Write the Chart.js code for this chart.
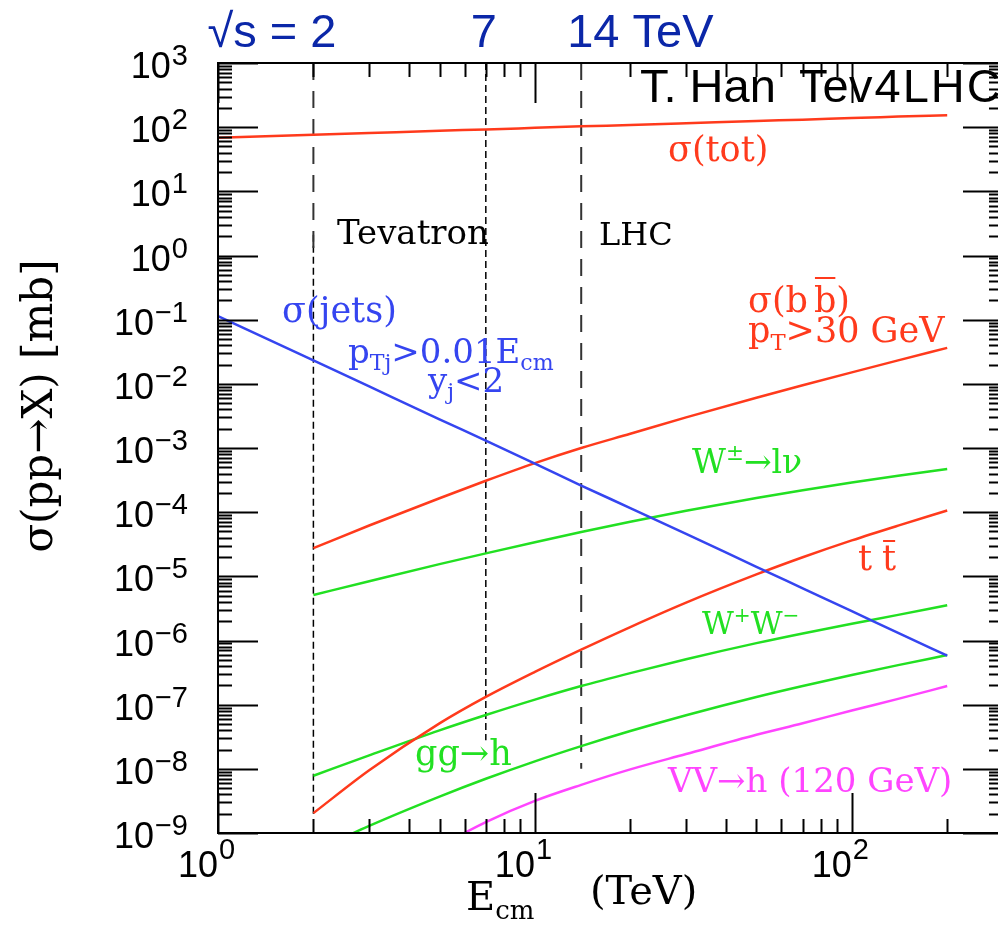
<!DOCTYPE html>
<html lang="en">
  <head>
    <meta charset="UTF-8" />
    <title>sigma(pp -> X) vs E_cm</title>
    <script src="https://cdn.jsdelivr.net/npm/chart.js"></script>
    <style>
      html,
      body {
        margin: 0;
        padding: 0;
        background: #fff;
        overflow: hidden;
      }
      #chart {
        display: block;
      }
    </style>
  </head>
  <body>
    <canvas id="chart" width="1010" height="926"></canvas>

    <script>
      // E_cm in TeV, cross sections in mb
      const energies = [1, 2, 3, 5, 7, 10, 14, 20, 30, 50, 70, 100, 140, 200];
      const sigmaTot = [68.5, 76, 81, 88, 92, 97.5, 103, 108, 115, 125, 131, 139, 146, 154];
      const sigmaJets = [0.114, 0.0232, 9.1e-3, 2.8e-3, 1.3e-3, 5.7e-4, 2.6e-4, 1.16e-4, 4.6e-5, 1.41e-5, 6.5e-6, 2.86e-6, 1.32e-6, 5.8e-7];
      const sigmaBB = [null, 2.75e-5, 6.19e-5, 1.65e-4, 3.09e-4, 5.82e-4, 1.0e-3, 1.67e-3, 3.0e-3, 6.07e-3, 9.5e-3, 0.0151, 0.0232, 0.0363];
      const sigmaW = [null, 5.13e-6, 8.4e-6, 1.55e-5, 2.28e-5, 3.4e-5, 4.9e-5, 7.1e-5, 1.05e-4, 1.66e-4, 2.2e-4, 2.89e-4, 3.68e-4, 4.69e-4];
      const sigmaTT = [null, 2.04e-9, 9.5e-9, 5.1e-8, 1.32e-7, 3.24e-7, 7.2e-7, 1.62e-6, 3.89e-6, 1.07e-5, 1.98e-5, 3.63e-5, 6.17e-5, 1.06e-4];
      const sigmaWW = [null, 7.8e-9, 1.62e-8, 3.98e-8, 6.9e-8, 1.2e-7, 1.95e-7, 3.1e-7, 5.1e-7, 9.1e-7, 1.29e-6, 1.82e-6, 2.51e-6, 3.55e-6];
      const sigmaGGH = [null, 5.1e-10, 1.29e-9, 3.69e-9, 7.0e-9, 1.31e-8, 2.26e-8, 3.88e-8, 6.85e-8, 1.32e-7, 1.96e-7, 2.9e-7, 4.13e-7, 5.93e-7];
      const sigmaVVH = [null, null, null, 6.2e-10, 1.48e-9, 3.16e-9, 5.62e-9, 9.8e-9, 1.7e-8, 3.39e-8, 5.13e-8, 8.1e-8, 1.23e-7, 1.95e-7];

      // vertical marker lines: [E, sigma from, sigma to]
      const tevatronLine = [2, 1000, 1.13];
      const lhcLine = [14, 1000, 1.0e-8];
      const sqrtS2Line = [2, 2.1, 1.9e-9];
      const sqrtS7Line = [7, 1000, 2.8e-8];

      const xExponents = [0, 1, 2];
      const yExponents = [3, 2, 1, 0, -1, -2, -3, -4, -5, -6, -7, -8, -9];

      const RED = "#ff3a1c";
      const GREEN = "#22e022";
      const BLUE = "#3545f0";
      const MAGENTA = "#ff45ff";
      const HEAD_BLUE = "#0b27a8";
      const SANS = '"Liberation Sans", Arial, sans-serif';
      const SERIF = '"DejaVu Serif", serif';

      function points(values) {
        return energies.map((e, i) => ({ x: e, y: values[i] }));
      }

      function curve(values, color) {
        return {
          data: points(values),
          borderColor: color,
          borderWidth: 2.5,
          pointRadius: 0,
          cubicInterpolationMode: "monotone",
        };
      }

      function vline(def, dash, color, width) {
        return {
          data: [
            { x: def[0], y: def[1] },
            { x: def[0], y: def[2] },
          ],
          borderColor: color,
          borderWidth: width,
          borderDash: dash,
          pointRadius: 0,
        };
      }

      // draws runs of text with sub/superscripts, overbars and gaps
      function richText(ctx, x, y, parts, size, color, family) {
        ctx.fillStyle = color;
        ctx.strokeStyle = color;
        ctx.textAlign = "left";
        ctx.textBaseline = "alphabetic";
        let cx = x;
        parts.forEach(([text, kind, extra]) => {
          if (kind === "gap") {
            cx += extra;
            return;
          }
          let s = size;
          let by = y;
          if (kind === "sub") {
            s = size * 0.65;
            by = y + size * 0.22;
          } else if (kind === "sup") {
            s = size * 0.65;
            by = y - size * 0.4;
          }
          ctx.font = s + "px " + family;
          ctx.fillText(text, cx, by);
          const w = ctx.measureText(text).width;
          if (kind === "bar") {
            ctx.lineWidth = 2;
            ctx.beginPath();
            ctx.moveTo(cx + 1, y - extra);
            ctx.lineTo(cx + w - 1, y - extra);
            ctx.stroke();
          }
          cx += w;
        });
      }

      const frameAxes = {
        id: "frameAxes",
        afterDatasetsDraw(chart) {
          const { ctx, chartArea: a } = chart;
          const xs = chart.scales.x;
          const ys = chart.scales.y;
          ctx.save();
          ctx.strokeStyle = "#000";
          ctx.lineWidth = 2;
          ctx.strokeRect(a.left, a.top, a.right - a.left, a.bottom - a.top);

          const seg = (x1, y1, x2, y2) => {
            ctx.beginPath();
            ctx.moveTo(x1, y1);
            ctx.lineTo(x2, y2);
            ctx.stroke();
          };

          // y ticks, both sides, pointing in
          for (let p = -9; p <= 3; p++) {
            for (let m = 1; m <= 9; m++) {
              const v = m * Math.pow(10, p);
              if (v > ys.max * 1.0001) break;
              const py = Math.round(ys.getPixelForValue(v)) + 0.5;
              const len = m === 1 ? 40 : 14;
              seg(a.left, py, a.left + len, py);
              seg(a.right, py, a.right - len, py);
            }
          }
          // x ticks, top and bottom
          for (let p = 0; p <= 2; p++) {
            for (let m = 1; m <= 9; m++) {
              const v = m * Math.pow(10, p);
              if (v >= xs.max) break;
              const px = Math.round(xs.getPixelForValue(v)) + 0.5;
              const len = m === 1 ? 40 : 14;
              seg(px, a.bottom, px, a.bottom - len);
              seg(px, a.top, px, a.top + len);
            }
          }

          // tick labels 10^n
          ctx.fillStyle = "#000";
          ctx.textBaseline = "alphabetic";
          const expText = (n) => (n < 0 ? "\u2212" + Math.abs(n) : String(n));
          yExponents.forEach((n) => {
            const py = ys.getPixelForValue(Math.pow(10, n));
            ctx.font = "29px " + SANS;
            ctx.textAlign = "right";
            const et = expText(n);
            ctx.fillText(et, 188, py + 2);
            const ew = ctx.measureText(et).width;
            ctx.font = "36px " + SANS;
            ctx.fillText("10", 187 - ew, py + 15);
          });
          xExponents.forEach((n) => {
            const px = xs.getPixelForValue(Math.pow(10, n));
            ctx.font = "36px " + SANS;
            ctx.textAlign = "right";
            ctx.fillText("10", px, 877);
            ctx.font = "29px " + SANS;
            ctx.textAlign = "left";
            ctx.fillText(expText(n), px + 1, 859);
          });

          // axis titles
          richText(ctx, 466, 910, [["E"], ["cm", "sub"]], 40, "#000", SERIF);
          ctx.font = "40px " + SERIF;
          ctx.textAlign = "left";
          ctx.fillText("(TeV)", 590, 904);

          ctx.save();
          ctx.translate(52, 406);
          ctx.rotate(-Math.PI / 2);
          ctx.font = "42px " + SERIF;
          ctx.textAlign = "center";
          ctx.fillText("\u03c3(pp\u2192X) [mb]", 0, 0);
          ctx.restore();

          // sqrt(s) header
          ctx.fillStyle = HEAD_BLUE;
          ctx.font = "47px " + SANS;
          ctx.textAlign = "right";
          ctx.fillText("\u221as = 2", xs.getPixelForValue(2) + 23, 47);
          ctx.textAlign = "center";
          ctx.fillText("7", xs.getPixelForValue(7) - 2, 47);
          ctx.textAlign = "left";
          ctx.fillText("14 TeV", xs.getPixelForValue(14) - 14, 47);

          ctx.fillStyle = "#000";
          ctx.font = "47px " + SANS;
          ctx.fillText("T. Han", 640, 102);
          ctx.fillText("Te", 799, 102);
          ctx.letterSpacing = "2px";
          ctx.fillText("v4LHC", 849, 102);
          ctx.letterSpacing = "0px";

          // in-plot labels
          richText(ctx, 668, 161, [["\u03c3(tot)"]], 35, RED, SERIF);
          richText(ctx, 337, 244, [["Tevatron"]], 34, "#000", SERIF);
          richText(ctx, 599, 245, [["LHC"]], 32, "#000", SERIF);
          richText(ctx, 282, 322, [["\u03c3(jets)"]], 35, BLUE, SERIF);
          richText(ctx, 348, 363, [["p"], ["Tj", "sub"], [">0.01E"], ["cm", "sub"]], 34, BLUE, SERIF);
          richText(ctx, 428, 392, [["y"], ["j", "sub"], ["<2"]], 34, BLUE, SERIF);
          richText(ctx, 748, 312, [["\u03c3(b"], ["", "gap", 6], ["b", "bar", 34], [")"]], 35, RED, SERIF);
          richText(ctx, 748, 342, [["p"], ["T", "sub"], [">30 GeV"]], 35, RED, SERIF);
          richText(ctx, 692, 473, [["W"], ["\u00b1", "sup"], ["\u2192l\u03bd"]], 33, GREEN, SERIF);
          richText(ctx, 858, 570, [["t"], ["", "gap", 10], ["t", "bar", 29]], 35, RED, SERIF);
          richText(ctx, 702, 634, [["W"], ["+", "sup"], ["W"], ["\u2212", "sup"]], 31, GREEN, SERIF);
          richText(ctx, 415, 765, [["gg\u2192h"]], 35, GREEN, SERIF);
          richText(ctx, 668, 792, [["VV\u2192h (120 GeV)"]], 34, MAGENTA, SERIF);

          ctx.restore();
        },
      };

      new Chart(document.getElementById("chart"), {
        type: "line",
        data: {
          datasets: [
            curve(sigmaTot, RED),
            curve(sigmaJets, BLUE),
            curve(sigmaBB, RED),
            curve(sigmaW, GREEN),
            curve(sigmaTT, RED),
            curve(sigmaWW, GREEN),
            curve(sigmaGGH, GREEN),
            curve(sigmaVVH, MAGENTA),
            vline(tevatronLine, [17, 11], "#333", 2),
            vline(lhcLine, [17, 11], "#333", 2),
            vline(sqrtS2Line, [7, 4], "#000", 1.5),
            vline(sqrtS7Line, [7, 4], "#000", 1.5),
          ],
        },
        options: {
          responsive: false,
          devicePixelRatio: 1,
          animation: false,
          events: [],
          layout: { padding: { left: 218, right: 7, top: 63, bottom: 93 } },
          plugins: { legend: { display: false }, tooltip: { enabled: false } },
          scales: {
            x: { type: "logarithmic", min: 1, max: 300, display: false },
            y: { type: "logarithmic", min: 1e-9, max: 1e3, display: false },
          },
        },
        plugins: [frameAxes],
      });
    </script>
  </body>
</html>
